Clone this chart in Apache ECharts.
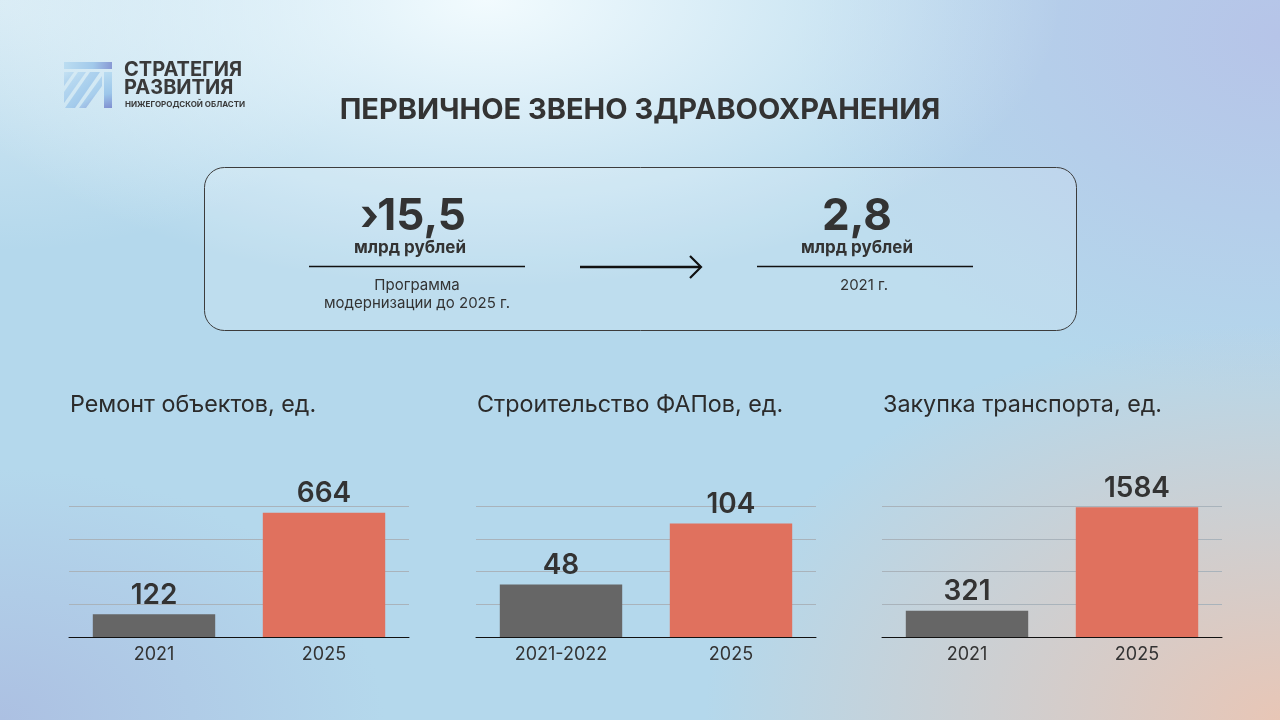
<!DOCTYPE html>
<html>
<head>
<meta charset="utf-8">
<script src="https://cdn.jsdelivr.net/npm/echarts@6/dist/echarts.min.js"></script>
<style>
html,body{margin:0;padding:0;width:1280px;height:720px;overflow:hidden;}
body{
background:
 radial-gradient(ellipse 45% 40% at 38% 0%, rgba(242,251,254,1) 0%, rgba(242,251,254,0) 100%),
 radial-gradient(ellipse 45% 55% at 100% 100%, rgba(232,198,182,1) 0%, rgba(232,198,182,0) 100%),
 radial-gradient(ellipse 38% 50% at 100% 5%, rgba(182,196,232,1) 0%, rgba(182,196,232,0) 100%),
 radial-gradient(ellipse 30% 35% at 0% 100%, rgba(172,192,226,1) 0%, rgba(172,192,226,0) 100%),
 radial-gradient(ellipse 30% 35% at 0% 0%, rgba(214,234,244,1) 0%, rgba(214,234,244,0) 100%),
 #b4d8ec;
}
#c{width:1280px;height:720px;}
</style>
</head>
<body>
<div id="c"></div>
<script>
// ---- data ----
const titles = ['Ремонт объектов, ед.', 'Строительство ФАПов, ед.', 'Закупка транспорта, ед.'];
const cats1 = ['2021', '2025'];
const vals1 = [122, 664];
const cats2 = ['2021-2022', '2025'];
const vals2 = [48, 104];
const cats3 = ['2021', '2025'];
const vals3 = [321, 1584];
const axisMax = [700, 120, 1600];
const mainTitle = 'ПЕРВИЧНОЕ ЗВЕНО ЗДРАВООХРАНЕНИЯ';
const leftValue = '›15,5';
const rightValue = '2,8';
const unitText = 'млрд рублей';
const leftNote = 'Программа\nмодернизации до 2025 г.';
const rightNote = '2021 г.';

const cats = [cats1, cats2, cats3];
const vals = [vals1, vals2, vals3];
const barColors = ['#666666', '#E0715E'];
const font = 'Inter, Roboto, sans-serif';
const gridLefts = [69, 476, 882];

const chart = echarts.init(document.getElementById('c'), null, {renderer: 'canvas'});

const grids = [], xAxes = [], yAxes = [], series = [];
for (let i = 0; i < 3; i++) {
  grids.push({left: gridLefts[i], top: 506, width: 340, height: 131, containLabel: false});
  xAxes.push({
    type: 'category', gridIndex: i, data: cats[i],
    axisLine: {show: true, lineStyle: {color: '#111', width: 1}},
    axisTick: {show: false},
    axisLabel: {color: '#333', fontSize: 18, fontFamily: font, margin: 9}
  });
  yAxes.push({
    type: 'value', gridIndex: i, min: 0, max: axisMax[i], interval: axisMax[i] / 4,
    axisLine: {show: false}, axisTick: {show: false}, axisLabel: {show: false},
    splitLine: {show: true, lineStyle: {color: '#a9b3bb', width: 1}}
  });
  series.push({
    type: 'bar', xAxisIndex: i, yAxisIndex: i,
    barCategoryGap: '28%',
    data: vals[i].map((v, j) => ({value: v, itemStyle: {color: barColors[j]}})),
    label: {show: true, position: 'top', distance: 5, color: '#333', fontSize: 28, fontWeight: 600, fontFamily: font},
    z: 3
  });
}

const txt = (x, y, text, size, weight, extra) => ({
  type: 'text', x: x, y: y,
  style: Object.assign({text: text, fill: '#333', font: weight + ' ' + size + 'px ' + font, textAlign: 'left', textVerticalAlign: 'middle'}, extra || {})
});

const graphics = [];
// logo icon
const iconColor = {type: 'linear', x: 0, y: 0, x2: 1, y2: 1, colorStops: [{offset: 0, color: '#b9dcf1'}, {offset: 0.6, color: '#9cc6ea'}, {offset: 1, color: '#7f8fd0'}]};
graphics.push({type: 'polygon', shape: {points: [[64, 62], [112, 62], [112, 69], [64, 69]]}, style: {fill: iconColor, opacity: 0.9}});
graphics.push({type: 'polygon', shape: {points: [[104, 72], [112, 72], [112, 108], [104, 108]]}, style: {fill: iconColor}});
graphics.push({type: 'polygon', shape: {points: [[90, 72], [100, 72], [75, 108], [65, 108]]}, style: {fill: iconColor, opacity: 0.85}});
graphics.push({type: 'polygon', shape: {points: [[78, 72], [86, 72], [64, 103], [64, 92]]}, style: {fill: iconColor, opacity: 0.7}});
graphics.push({type: 'polygon', shape: {points: [[102, 76], [102, 86], [86, 108], [79, 108]]}, style: {fill: iconColor, opacity: 0.8}});
graphics.push({type: 'polygon', shape: {points: [[64, 72], [74, 72], [64, 86]]}, style: {fill: iconColor, opacity: 0.6}});
graphics.push(txt(124, 70, 'СТРАТЕГИЯ', 20, 'bold', {fill: '#3a3a3a'}));
graphics.push(txt(124, 88, 'РАЗВИТИЯ', 20, 'bold', {fill: '#3a3a3a'}));
graphics.push(txt(125, 105, 'НИЖЕГОРОДСКОЙ ОБЛАСТИ', 8, 'bold', {fill: '#3a3a3a'}));
// main title
graphics.push(txt(640, 110, mainTitle, 29, 'bold', {textAlign: 'center'}));
// box
graphics.push({type: 'rect', shape: {x: 204.5, y: 167.5, width: 872, height: 163, r: 20}, style: {fill: 'rgba(255,255,255,0.14)', stroke: '#3c3c3c', lineWidth: 1}});
graphics.push(txt(413, 217, leftValue, 44, 'bold', {textAlign: 'center'}));
graphics.push(txt(410, 248, unitText, 17, 'bold', {textAlign: 'center'}));
graphics.push({type: 'line', shape: {x1: 309, y1: 266.5, x2: 525, y2: 266.5}, style: {stroke: '#111', lineWidth: 1.3}});
graphics.push(txt(417, 294, leftNote, 15, 'normal', {textAlign: 'center', lineHeight: 18}));
graphics.push(txt(857, 217, rightValue, 44, 'bold', {textAlign: 'center'}));
graphics.push(txt(857, 248, unitText, 17, 'bold', {textAlign: 'center'}));
graphics.push({type: 'line', shape: {x1: 757, y1: 266.5, x2: 973, y2: 266.5}, style: {stroke: '#111', lineWidth: 1.3}});
graphics.push(txt(864, 285, rightNote, 15, 'normal', {textAlign: 'center'}));
// arrow
graphics.push({type: 'line', shape: {x1: 580, y1: 267, x2: 700, y2: 267}, style: {stroke: '#111', lineWidth: 2.6}});
graphics.push({type: 'polyline', shape: {points: [[690, 256], [701, 267], [690, 278]]}, style: {stroke: '#111', lineWidth: 2.2, fill: null}});
// chart titles
for (let i = 0; i < 3; i++) {
  graphics.push(txt(gridLefts[i] + 1, 405, titles[i], 23.3, 'normal', {fill: '#2b2b2b'}));
}

chart.setOption({
  backgroundColor: 'transparent',
  animation: false,
  grid: grids, xAxis: xAxes, yAxis: yAxes, series: series,
  graphic: graphics
});
</script>
</body>
</html>
